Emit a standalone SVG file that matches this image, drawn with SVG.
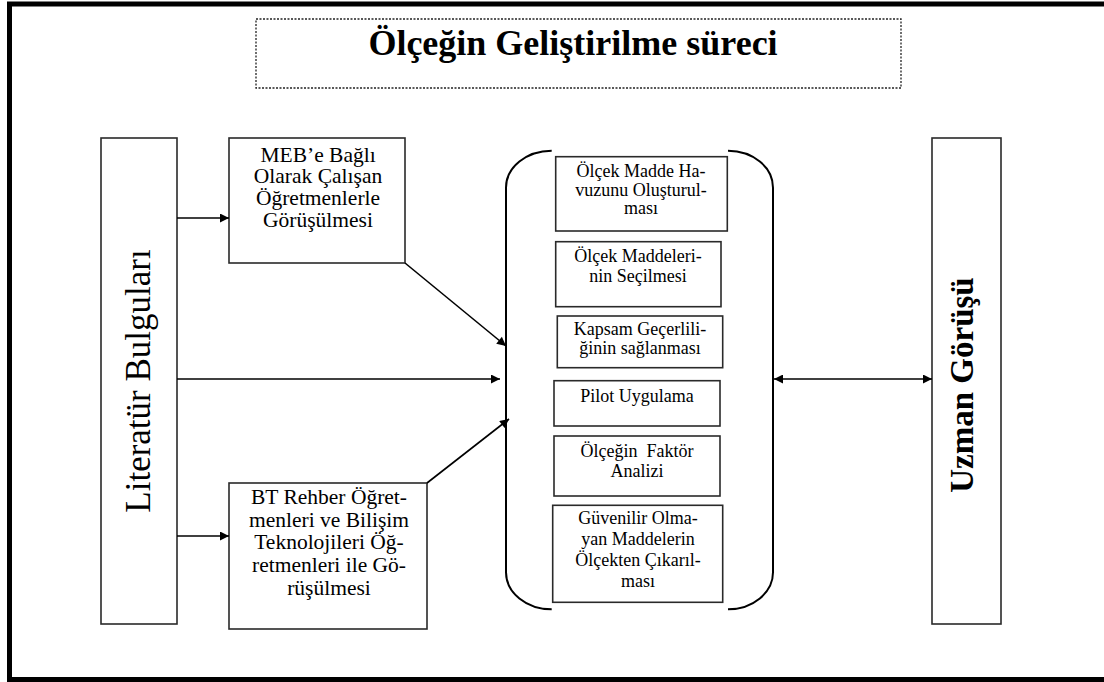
<svg xmlns="http://www.w3.org/2000/svg" width="1104" height="682" viewBox="0 0 1104 682">
<style>
text{font-family:"Liberation Serif","Times New Roman",serif;fill:#000;text-anchor:middle}
.box{fill:#fff;stroke:#2a2a2a;stroke-width:1.6}
.big{font-size:21.5px}
.small{font-size:18px}
.con{stroke:#000;stroke-width:1.6;fill:none}
</style>
<defs>
<marker id="ah" viewBox="0 0 10 10" refX="10" refY="5" markerWidth="11" markerHeight="9" markerUnits="userSpaceOnUse" orient="auto-start-reverse">
<path d="M0,0 L10,5 L0,10 z" fill="#000"/>
</marker>
</defs>
<rect x="0" y="0" width="1104" height="682" fill="#fff"/>
<path d="M1110,4 H9.5 V679.5 H1110" fill="none" stroke="#000" stroke-width="5"/>

<g id="title">
<rect x="256" y="19" width="645" height="69" fill="none" stroke="#222" stroke-width="1.3" stroke-dasharray="2,1.5"/>
<text x="573" y="55" style="font-size:36px;font-weight:bold">Ölçeğin Geliştirilme süreci</text>
</g>

<g id="literatur">
<rect class="box" x="101" y="138" width="76" height="486"/>
<text transform="translate(150,381) rotate(-90)" style="font-size:35px">Literatür Bulguları</text>
</g>

<g id="meb">
<rect class="box" x="229" y="138" width="176" height="125"/>
<text class="big" x="318" y="161.7">MEB’e Bağlı</text>
<text class="big" x="318" y="183.3">Olarak Çalışan</text>
<text class="big" x="318" y="205">Öğretmenlerle</text>
<text class="big" x="318" y="227.3">Görüşülmesi</text>
</g>

<g id="bt">
<rect class="box" x="229" y="483" width="198" height="146"/>
<text class="big" x="329" y="504">BT Rehber Öğret-</text>
<text class="big" x="329" y="526.7">menleri ve Bilişim</text>
<text class="big" x="329" y="549">Teknolojileri Öğ-</text>
<text class="big" x="329" y="571.7">retmenleri ile Gö-</text>
<text class="big" x="329" y="595">rüşülmesi</text>
</g>

<g id="process">
<path d="M551.7,150.7 A45.7,37 0 0 0 506,187.7 V572.3 A45.7,37 0 0 0 551.7,609.3" fill="none" stroke="#000" stroke-width="2"/>
<path d="M728,150.7 A45,37 0 0 1 773,187.7 V572.3 A45,37 0 0 1 728,609.3" fill="none" stroke="#000" stroke-width="2"/>
</g>

<g id="step1">
<rect class="box" x="555.7" y="156.7" width="171.6" height="74.3"/>
<text class="small" x="641" y="177.3">Ölçek Madde Ha-</text>
<text class="small" x="641" y="196">vuzunu Oluşturul-</text>
<text class="small" x="641" y="214.3">ması</text>
</g>

<g id="step2">
<rect class="box" x="555.7" y="241.7" width="165.3" height="65"/>
<text class="small" x="638" y="261.7">Ölçek Maddeleri-</text>
<text class="small" x="638" y="281.7">nin Seçilmesi</text>
</g>

<g id="step3">
<rect class="box" x="557.3" y="316" width="165.4" height="51.7"/>
<text class="small" x="640" y="335">Kapsam Geçerlili-</text>
<text class="small" x="640" y="354.3">ğinin sağlanması</text>
</g>

<g id="step4">
<rect class="box" x="554" y="380.7" width="166" height="45.3"/>
<text class="small" x="637" y="401.7">Pilot Uygulama</text>
</g>

<g id="step5">
<rect class="box" x="554" y="436" width="166" height="60"/>
<text class="small" x="637" y="457.3" xml:space="preserve">Ölçeğin  Faktör</text>
<text class="small" x="637" y="476.7">Analizi</text>
</g>

<g id="step6">
<rect class="box" x="552.7" y="505.3" width="170" height="97"/>
<text class="small" x="638" y="524">Güvenilir Olma-</text>
<text class="small" x="638" y="545">yan Maddelerin</text>
<text class="small" x="638" y="565.7">Ölçekten Çıkarıl-</text>
<text class="small" x="638" y="586.7">ması</text>
</g>

<g id="uzman">
<rect class="box" x="932" y="138" width="69" height="486"/>
<text transform="translate(973,385) rotate(-90)" style="font-size:33px;font-weight:bold">Uzman Görüşü</text>
</g>

<g id="connectors">
<line class="con" x1="177" y1="218" x2="229" y2="218" marker-end="url(#ah)"/>
<line class="con" x1="177" y1="536" x2="229" y2="536" marker-end="url(#ah)"/>
<line class="con" x1="177" y1="379" x2="500" y2="379" marker-end="url(#ah)"/>
<line class="con" x1="405" y1="263" x2="506" y2="346" marker-end="url(#ah)"/>
<line class="con" x1="427" y1="483" x2="509" y2="419" marker-end="url(#ah)"/>
<line class="con" x1="774" y1="379" x2="932" y2="379" marker-start="url(#ah)" marker-end="url(#ah)"/>
</g>
</svg>
